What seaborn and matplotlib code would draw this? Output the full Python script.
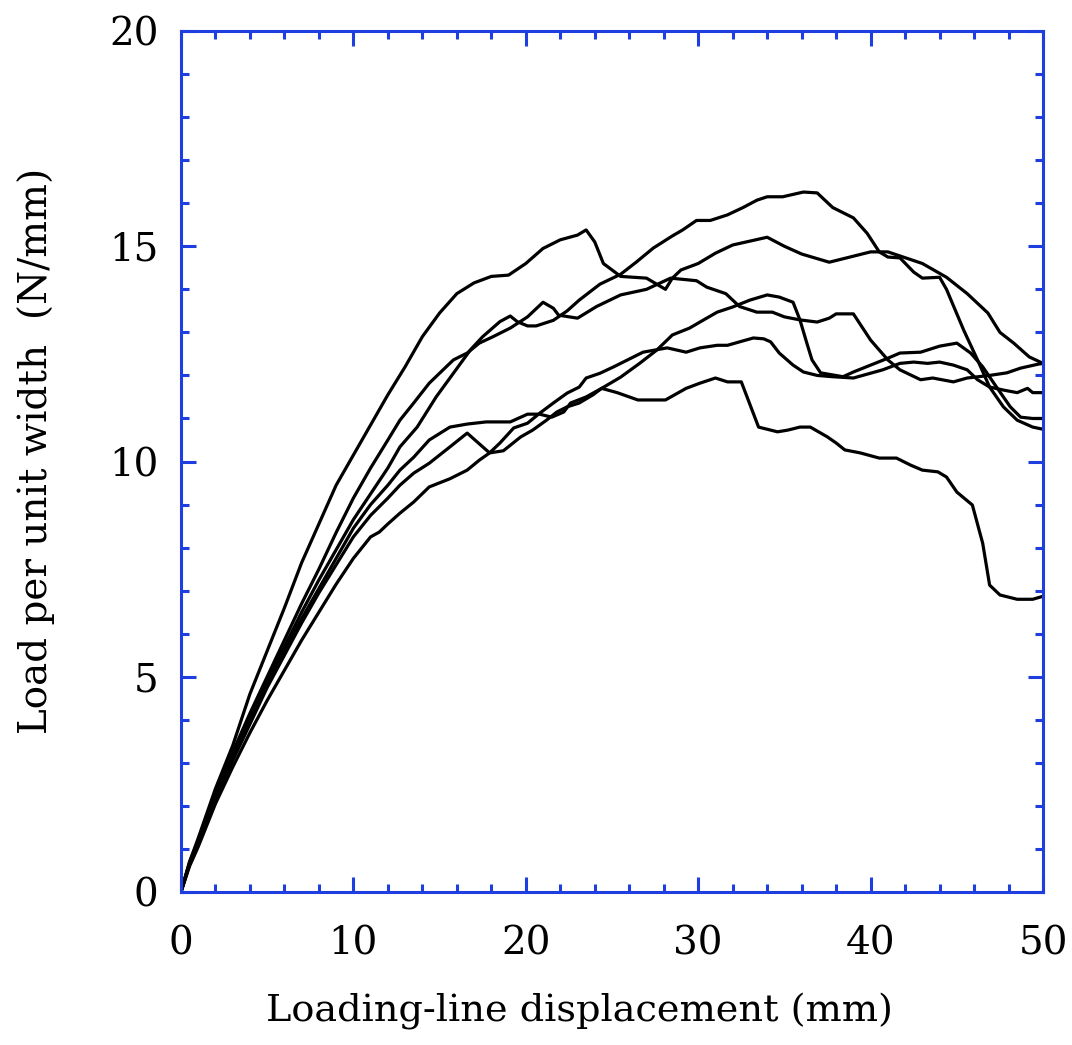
import numpy as np
import pandas as pd
import matplotlib
matplotlib.use("Agg")
import matplotlib.pyplot as plt
from matplotlib.ticker import MultipleLocator
import seaborn as sns

# ---- data ----
A_x = [0, 0.5, 1, 2, 3, 4, 5, 6, 7, 8, 9, 10, 11, 12, 13, 14, 15, 16, 17, 18, 19, 20, 21, 22, 23, 23.5, 24, 24.5, 25.5, 27, 28.1, 28.5, 29, 30, 31, 32, 33, 34, 35, 36, 37.6, 38.6, 40, 41, 43, 44.4, 45.6, 46.8, 47.5, 48.3, 49.2, 50]
A_y = [0, 0.7, 1.25, 2.4, 3.4, 4.6, 5.6, 6.6, 7.65, 8.55, 9.45, 10.15, 10.85, 11.55, 12.2, 12.9, 13.45, 13.9, 14.15, 14.3, 14.33, 14.6, 14.95, 15.15, 15.26, 15.38, 15.1, 14.6, 14.3, 14.26, 14.0, 14.26, 14.45, 14.6, 14.84, 15.03, 15.12, 15.21, 15.0, 14.82, 14.63, 14.73, 14.87, 14.87, 14.6, 14.28, 13.9, 13.45, 13.0, 12.75, 12.43, 12.28]

B_x = [0, 0.5, 1, 2, 3, 4, 5, 6, 7, 8, 9, 10, 11, 12, 12.7, 13.7, 14.8, 15.8, 16.8, 17.5, 18.5, 19.1, 19.5, 20.1, 20.6, 21.6, 22.4, 23.1, 24.3, 25.5, 26.4, 27.4, 28.5, 29.1, 29.9, 30.7, 31.7, 32.6, 33.4, 34.0, 34.9, 36.1, 36.9, 37.8, 39.0, 39.8, 40.5, 41.0, 41.7, 42.5, 43.0, 44.0, 44.4, 45.4, 46.2, 46.9, 47.7, 48.5, 49.4, 50]
B_y = [0, 0.65, 1.15, 2.25, 3.2, 4.1, 4.95, 5.7, 6.5, 7.25, 7.95, 8.65, 9.25, 9.85, 10.34, 10.8, 11.5, 12.05, 12.6, 12.9, 13.25, 13.38, 13.25, 13.15, 13.15, 13.28, 13.5, 13.75, 14.12, 14.35, 14.63, 14.96, 15.24, 15.38, 15.6, 15.6, 15.73, 15.9, 16.07, 16.15, 16.15, 16.26, 16.24, 15.9, 15.66, 15.3, 14.87, 14.75, 14.73, 14.4, 14.26, 14.28, 14.0, 13.05, 12.36, 11.73, 11.27, 10.96, 10.8, 10.75]

E_x = [0, 0.5, 1, 2, 3, 4, 5, 6, 7, 8, 9, 10, 11, 12, 12.7, 13.5, 14.4, 15.8, 16.6, 17.3, 18.1, 19.1, 20.1, 21.0, 21.6, 21.9, 23.0, 24.1, 25.5, 27.0, 28.4, 29.9, 30.5, 31.6, 32.4, 33.4, 34.3, 35.0, 35.9, 36.9, 37.6, 38.0, 39.0, 40.0, 41.0, 41.7, 42.9, 43.6, 44.8, 45.6, 46.9, 47.9, 48.7, 49.7, 50]
E_y = [0, 0.7, 1.2, 2.3, 3.25, 4.15, 5.0, 5.85, 6.7, 7.5, 8.35, 9.15, 9.85, 10.5, 10.96, 11.36, 11.82, 12.36, 12.52, 12.75, 12.9, 13.1, 13.36, 13.7, 13.56, 13.4, 13.33, 13.6, 13.87, 14.0, 14.26, 14.2, 14.05, 13.9, 13.6, 13.47, 13.47, 13.36, 13.29, 13.24, 13.33, 13.43, 13.43, 12.82, 12.36, 12.13, 11.9, 11.94, 11.85, 11.94, 12.0, 12.06, 12.17, 12.26, 12.28]

G_x = [0, 0.5, 1, 2, 3, 4, 5, 6, 7, 8, 9, 10, 11, 12, 12.7, 13.5, 14.4, 15.6, 16.6, 17.7, 19.1, 20.1, 20.8, 21.5, 22.2, 22.6, 23.5, 24.4, 25.3, 26.5, 28.1, 29.3, 30.1, 31.0, 31.7, 32.5, 33.5, 34.6, 35.2, 35.9, 36.5, 37.5, 38.0, 38.5, 39.4, 40.5, 41.5, 42.3, 43.0, 43.9, 44.4, 45.0, 45.9, 46.5, 46.9, 47.5, 48.5, 49.4, 50]
G_y = [0, 0.65, 1.15, 2.2, 3.15, 4.0, 4.85, 5.6, 6.35, 7.05, 7.75, 8.45, 9.0, 9.45, 9.8, 10.1, 10.5, 10.8, 10.87, 10.92, 10.92, 11.1, 11.1, 11.03, 11.15, 11.36, 11.5, 11.7, 11.6, 11.43, 11.43, 11.7, 11.82, 11.94, 11.85, 11.85, 10.8, 10.69, 10.73, 10.8, 10.8, 10.57, 10.43, 10.27, 10.2, 10.08, 10.08, 9.92, 9.8, 9.76, 9.64, 9.29, 8.99, 8.1, 7.13, 6.9, 6.8, 6.8, 6.87]

D_x = [0, 0.5, 1, 2, 3, 4, 5, 6, 7, 8, 9, 10, 11, 12, 12.7, 13.5, 14.4, 15.6, 16.6, 17.9, 18.5, 19.3, 20.1, 20.8, 21.6, 22.4, 23.1, 23.5, 24.3, 25.1, 25.9, 26.8, 28.2, 29.3, 30.1, 31.1, 31.7, 32.4, 33.2, 33.8, 34.2, 34.7, 35.5, 36.1, 36.9, 37.8, 39.0, 40.7, 41.7, 42.5, 43.3, 44.0, 44.8, 45.6, 46.2, 46.9, 47.7, 48.5, 49.1, 49.4, 50]
D_y = [0, 0.65, 1.1, 2.15, 3.05, 3.9, 4.75, 5.5, 6.25, 6.95, 7.6, 8.25, 8.75, 9.15, 9.45, 9.73, 9.96, 10.34, 10.66, 10.2, 10.43, 10.78, 10.89, 11.12, 11.36, 11.59, 11.73, 11.94, 12.05, 12.2, 12.36, 12.54, 12.64, 12.54, 12.64, 12.7, 12.7, 12.78, 12.87, 12.85, 12.78, 12.52, 12.24, 12.08, 12.0, 11.97, 11.94, 12.13, 12.28, 12.31, 12.28, 12.31, 12.24, 12.13, 11.9, 11.73, 11.66, 11.6, 11.7, 11.6, 11.6]

F_x = [0, 0.5, 1, 2, 3, 4, 5, 6, 7, 8, 9, 10, 11, 11.5, 12, 12.7, 13.5, 14.4, 15.6, 16.6, 17.3, 17.9, 18.7, 19.7, 20.4, 21.2, 21.8, 22.4, 23.1, 23.9, 24.4, 25.5, 26.6, 27.6, 28.5, 29.5, 30.1, 31.1, 32.0, 33.0, 34.0, 34.7, 35.5, 35.9, 36.3, 36.6, 37.1, 38.4, 39.0, 40.0, 41.0, 41.7, 42.9, 44.0, 45.0, 45.8, 46.5, 47.3, 48.1, 48.7, 49.4, 50]
F_y = [0, 0.6, 1.05, 2.05, 2.9, 3.7, 4.45, 5.15, 5.85, 6.5, 7.15, 7.75, 8.25, 8.36, 8.55, 8.8, 9.06, 9.41, 9.6, 9.8, 10.03, 10.2, 10.25, 10.57, 10.73, 10.96, 11.15, 11.27, 11.36, 11.55, 11.7, 11.96, 12.28, 12.59, 12.94, 13.1, 13.24, 13.47, 13.59, 13.75, 13.87, 13.82, 13.7, 13.29, 12.75, 12.36, 12.06, 11.97, 12.08, 12.24, 12.4, 12.52, 12.54, 12.68, 12.75, 12.52, 12.2, 11.73, 11.27, 11.03, 11.0, 11.0]

x_ticks = [0, 10, 20, 30, 40, 50]
y_ticks = [0, 5, 10, 15, 20]
x_label = "Loading-line displacement (mm)"
y_label = "Load per unit width  (N/mm)"

series = {"A": (A_x, A_y), "B": (B_x, B_y), "E": (E_x, E_y),
          "G": (G_x, G_y), "D": (D_x, D_y), "F": (F_x, F_y)}
frames = []
for name, (xs, ys) in series.items():
    frames.append(pd.DataFrame({"disp": xs, "load": ys, "specimen": name,
                                "order": np.arange(len(xs))}))
df = pd.concat(frames, ignore_index=True)

# ---- figure ----
sns.set_theme(style="white")
plt.rcParams['font.family'] = ['DejaVu Serif']
blue = '#1f3ee0'

fig = plt.figure(figsize=(10.72, 10.45), dpi=100)
ax = fig.add_axes([0.1688, 0.1464, 0.973 - 0.1688, 0.9703 - 0.1464])

sns.lineplot(data=df, x="disp", y="load", units="specimen", estimator=None,
             sort=False, color="black", linewidth=2.3, ax=ax, legend=False)

ax.set_xlim(0, 50)
ax.set_ylim(0, 20)
ax.set_xticks(x_ticks)
ax.set_yticks(y_ticks)
ax.xaxis.set_minor_locator(MultipleLocator(2))
ax.yaxis.set_minor_locator(MultipleLocator(1))

for s in ax.spines.values():
    s.set_color(blue)
    s.set_linewidth(2.2)
    s.set_visible(True)

ax.tick_params(which='both', direction='in', top=True, right=True,
               bottom=True, left=True, color=blue, width=2.2)
ax.tick_params(which='major', length=11)
ax.tick_params(which='minor', length=6)
ax.tick_params(axis='x', which='major', labelsize=28, pad=24, labelcolor='black')
ax.tick_params(axis='y', which='major', labelsize=28, pad=16, labelcolor='black')

ax.set_xlabel(x_label, fontsize=27.5, color='black')
ax.set_ylabel(y_label, fontsize=28, color='black')
ax.xaxis.set_label_coords(0.462, -0.139, transform=ax.transAxes)
ax.xaxis.label.set_va('center')
ax.yaxis.set_label_coords(-0.1676, 0.512, transform=ax.transAxes)
ax.yaxis.label.set_va('center')
ax.grid(False)
ax.set_facecolor('white')
fig.patch.set_facecolor('white')

fig.savefig("out.png", dpi=100)
